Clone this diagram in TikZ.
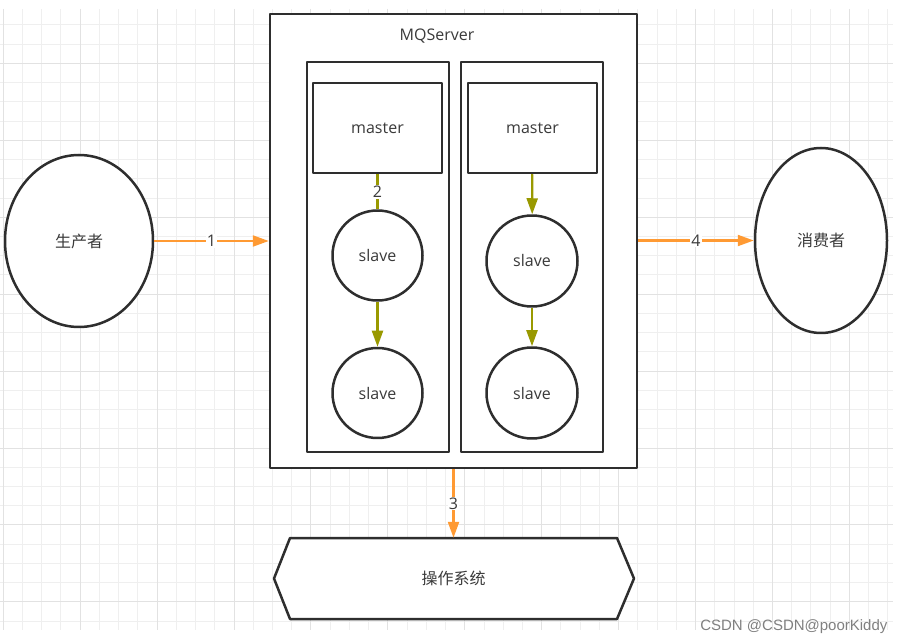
\documentclass[tikz,border=0pt]{standalone}
\usepackage{fontspec}
\setmainfont{Open Sans}
\newfontfamily\cjk{Noto Sans CJK SC}
\newfontfamily\markfont{Liberation Sans}
\usetikzlibrary{shapes.geometric,arrows.meta}
\definecolor{linec}{HTML}{2E2E2E}
\definecolor{textc}{HTML}{3A3A3A}
\definecolor{orangec}{HTML}{FF9A33}
\definecolor{olivec}{HTML}{999900}
\definecolor{gridminor}{HTML}{EFEFEF}
\definecolor{gridmajor}{HTML}{E2E2E2}
\begin{document}
\begin{tikzpicture}[x=1pt,y=-1pt,>={Triangle[length=16pt,width=11pt]},line join=round,
	font=\fontsize{16}{18}\selectfont,text=textc,
	box/.style={draw=linec,line width=2.5pt,fill=white,inner sep=0pt},
	ball/.style={circle,draw=linec,line width=2.5pt,fill=white,minimum size=90pt,inner sep=0pt},
	oarr/.style={->,draw=orangec,line width=2.2pt},
	garr/.style={->,draw=olivec,line width=2.2pt},
	lbl/.style={fill=white,text=textc,inner sep=1pt}]
		\useasboundingbox (0,0) rectangle (905,644);
		% grid
		\foreach \i in {0,...,46} \draw[gridminor,line width=1pt] ({3.3+19.23*\i},9)--({3.3+19.23*\i},630);
		\foreach \j in {0,...,31} \draw[gridminor,line width=1pt] (0,{25+19.23*\j})--(893,{25+19.23*\j});
		\foreach \i in {0,4,...,44} \draw[gridmajor,line width=1pt] ({3.3+19.23*\i},9)--({3.3+19.23*\i},630);
		\foreach \j in {2,6,...,30} \draw[gridmajor,line width=1pt] (0,{25+19.23*\j})--(893,{25+19.23*\j});
		% producer / consumer
		\node[ellipse,box,minimum width=148pt,minimum height=172pt] (prod) at (79,241) {\cjk 生产者};
		\node[ellipse,box,minimum width=132pt,minimum height=185pt] (cons) at (821,240.5) {\cjk 消费者};
		% server
		\node[box,minimum width=367pt,minimum height=454pt] (mq) at (453.5,241) {};
		\node (mqlabel) at (437,36) {MQServer};
		\node[box,minimum width=142pt,minimum height=390pt] (c1) at (378,257) {};
		\node[box,minimum width=142pt,minimum height=390pt] (c2) at (532,257) {};
		\node[box,minimum width=129pt,minimum height=90pt] (m1) at (377.5,128) {master};
		\node[box,minimum width=129pt,minimum height=90pt] (m2) at (532.5,128) {master};
		\node[ball] (s1) at (377.5,255.5) {slave};
		\node[ball] (s2) at (377.5,393) {slave};
		\node[ball,minimum size=91pt] (s3) at (532,261) {slave};
		\node[ball,minimum size=91pt] (s4) at (532,393) {slave};
		\draw[draw=olivec,line width=2.2pt] (m1) -- node[lbl]{2} (s1);
		\draw[garr] (s1) -- (s2);
		\draw[garr] (m2) -- (s3);
		\draw[garr] (s3) -- (s4);
		% operating system
		\draw[linec,line width=2.5pt,fill=white] (290,538)--(617,538)--(634,578.5)--(617,619)--(290,619)--(274,578.5)--cycle;
		\node[minimum width=360pt,minimum height=81pt,inner sep=0pt] (os) at (453.5,578.5) {\cjk 操作系统};
		% flows
		\draw[oarr] (prod.east) -- node[lbl]{1} (prod.east -| mq.west);
		\draw[oarr] (mq.east |- cons.west) -- node[lbl]{4} (cons.west);
		\draw[oarr] (mq.south) -- node[lbl]{3} (os.north);
		\node[text=gray,font=\markfont\fontsize{15}{17}\selectfont,anchor=east] (mark) at (891,627) {CSDN @CSDN@poorKiddy};
\end{tikzpicture}
\end{document}
